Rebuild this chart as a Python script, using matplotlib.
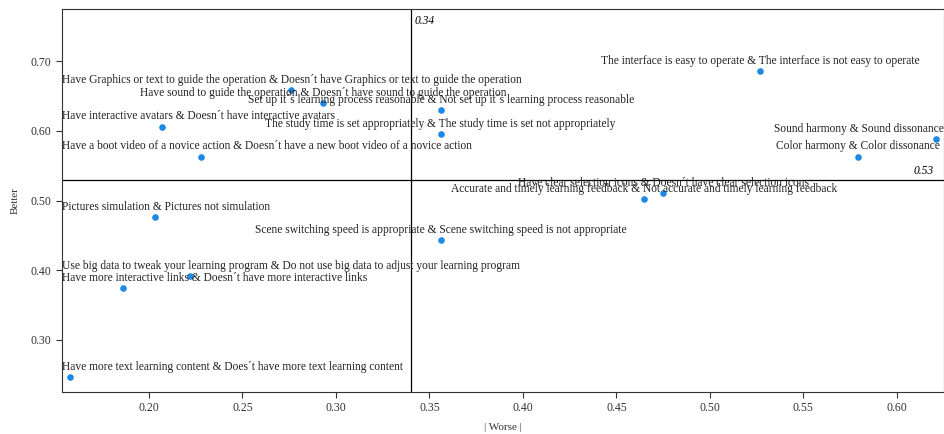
import matplotlib
matplotlib.use("Agg")
import matplotlib.pyplot as plt

plt.rcParams['font.family'] = ['Liberation Serif', 'DejaVu Serif']

# Better-Worse coefficients (KANO)
labels = [
    "The interface is easy to operate & The interface is not easy to operate",
    "Have Graphics or text to guide the operation & Doesn´t have Graphics or text to guide the operation",
    "Have sound to guide the operation & Doesn´t have sound to guide the operation",
    "Set up it´s learning process reasonable & Not set up it´s learning process reasonable",
    "Have interactive avatars & Doesn´t have interactive avatars",
    "The study time is set appropriately & The study time is set not appropriately",
    "Sound harmony & Sound dissonance",
    "Have a boot video of a novice action & Doesn´t have a new boot video of a novice action",
    "Color harmony & Color dissonance",
    "Have clear selection icons & Doesn´t have clear selection icons",
    "Accurate and timely learning feedback & Not accurate and timely learning feedback",
    "Pictures simulation & Pictures not simulation",
    "Scene switching speed is appropriate & Scene switching speed is not appropriate",
    "Use big data to tweak your learning program & Do not use big data to adjust your learning program",
    "Have more interactive links & Doesn´t have more interactive links",
    "Have more text learning content & Does´t have more text learning content",
]
worse = [0.527, 0.276, 0.293, 0.356, 0.207, 0.356, 0.621, 0.228, 0.579, 0.475,
         0.465, 0.203, 0.356, 0.222, 0.186, 0.158]
better = [0.686, 0.658, 0.640, 0.630, 0.606, 0.595, 0.588, 0.563, 0.563, 0.511,
          0.502, 0.476, 0.443, 0.391, 0.374, 0.247]

worse_mean = 0.34
better_mean = 0.53

fig = plt.figure(figsize=(9.45, 4.34), dpi=100)
ax = fig.add_axes([0.0656, 0.097, 0.933, 0.882])

ax.scatter(worse, better, s=14, color='#1E88E5', zorder=3)
ax.axvline(worse_mean, color='black', lw=0.9)
ax.axhline(better_mean, color='black', lw=0.9)

ax.set_xlim(0.1535, 0.625)
ax.set_ylim(0.2254, 0.7746)
ax.set_xticks([0.20, 0.25, 0.30, 0.35, 0.40, 0.45, 0.50, 0.55, 0.60])
ax.set_yticks([0.30, 0.40, 0.50, 0.60, 0.70])
ax.xaxis.set_major_formatter(matplotlib.ticker.FormatStrFormatter('%.2f'))
ax.yaxis.set_major_formatter(matplotlib.ticker.FormatStrFormatter('%.2f'))
ax.tick_params(labelsize=8.5, colors='#333333', length=4)
for sp in ax.spines.values():
    sp.set_color('#333333')
ax.set_xlabel("| Worse |", fontsize=8, color='#333333', labelpad=6)
ax.set_ylabel("Better", fontsize=8, color='#333333', labelpad=8)

ax.annotate(f"{worse_mean:.2f}", (worse_mean, 0.7746), xytext=(3, -4),
            textcoords='offset points', style='italic', fontsize=8.3,
            ha='left', va='top')
ax.annotate(f"{better_mean:.2f}", (0.625, better_mean), xytext=(-7, 2),
            textcoords='offset points', style='italic', fontsize=8.3,
            ha='right', va='bottom')

anns = []
for lab, x, y in zip(labels, worse, better):
    a = ax.annotate(lab, (x, y), xytext=(0, 3), textcoords='offset points',
                    ha='center', va='bottom', fontsize=8.3, color='#222222')
    anns.append(a)

# keep labels inside the axes
fig.canvas.draw()
r = fig.canvas.get_renderer()
box = ax.get_window_extent(r)
for a in anns:
    bb = a.get_window_extent(r)
    dx = 0
    if bb.x0 < box.x0:
        dx = box.x0 - bb.x0
    elif bb.x1 > box.x1:
        dx = box.x1 - bb.x1
    if dx:
        ox, oy = a.xyann
        a.xyann = (ox + dx * 72 / fig.dpi, oy)

fig.savefig("out.png", dpi=100)
